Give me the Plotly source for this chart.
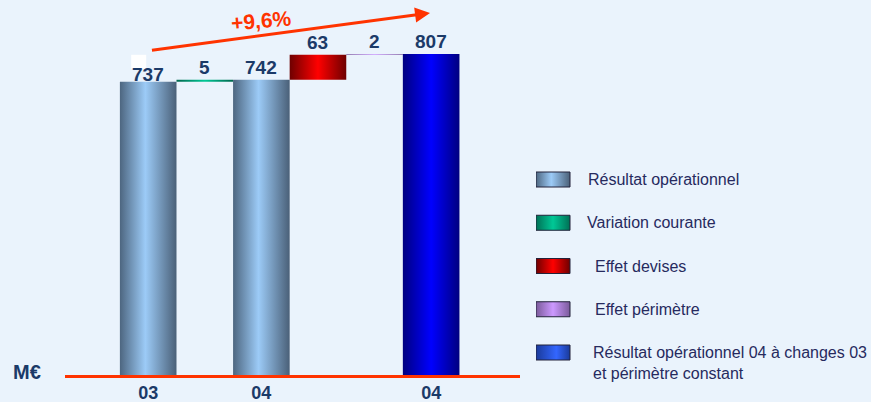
import plotly.graph_objects as go

# ---- data ----
categories = ["03", "Variation courante", "04", "Effet devises", "Effet périmètre", "04 (changes 03)"]
values = [737, 5, 742, 63, 2, 807]
is_total = [True, False, True, False, False, True]
series_of = ["Résultat opérationnel", "Variation courante", "Résultat opérationnel",
             "Effet devises", "Effet périmètre", "Résultat opérationnel 04 à changes 03"]
tick_positions = [0, 2, 5]
tick_labels = ["03", "04", "04"]
growth_label = "+9,6%"
legend_names = ["Résultat opérationnel", "Variation courante", "Effet devises",
                "Effet périmètre", "Résultat opérationnel 04 à changes 03"]
legend_texts = ["Résultat opérationnel", "Variation courante", "Effet devises",
                "Effet périmètre",
                "Résultat opérationnel 04 à changes 03<br>et périmètre constant"]

# ---- styles ----
gradients = {
    "Résultat opérationnel": [[0, "#4d6680"], [0.45, "#9ccbf7"], [1, "#4a6078"]],
    "Variation courante": [[0, "#00664d"], [0.5, "#00c896"], [1, "#00664d"]],
    "Effet devises": [[0, "#6e0000"], [0.5, "#ff0000"], [1, "#6e0000"]],
    "Effet périmètre": [[0, "#7a5a9a"], [0.5, "#cc99ff"], [1, "#7a5a9a"]],
    "Résultat opérationnel 04 à changes 03": [[0, "#000080"], [0.5, "#0000ff"], [1, "#000080"]],
}
legend_gradients = dict(gradients)
legend_gradients["Variation courante"] = [[0, "#007055"], [0.5, "#00c896"], [1, "#007055"]]
legend_gradients["Résultat opérationnel 04 à changes 03"] = [[0, "#1a3a9a"], [0.6, "#3366ff"], [1, "#1a3a9a"]]
legend_text_offset = [50, 49, 57, 57, 55]   # px gap from swatch left to text
label_yshift = [-5, 0, 0, 0, 0, 0]          # px nudges of value labels
BG = "#eaf3fc"
NAVY = "#1b3a68"
RED = "#ff3300"
FONT = "Liberation Sans, Arial, sans-serif"
W, H = 871, 402
PLOT_L, PLOT_R, PLOT_B = 65, 520, 375
LEG_L = 536
ROW0, ROWSTEP = 179.5, 43.25

# compute bases (waterfall)
bases = []
running = 0
for v, t in zip(values, is_total):
    if t:
        bases.append(0)
        running = v
    else:
        bases.append(running)
        running += v

fig = go.Figure()
for i, (v, b, s) in enumerate(zip(values, bases, series_of)):
    xs = [i - 0.5, i + 0.5, i + 0.5, i - 0.5, i - 0.5]
    ys = [b, b, b + v, b + v, b]
    fig.add_trace(go.Scatter(
        x=xs, y=ys, mode="lines", fill="toself",
        line=dict(width=0, color="rgba(0,0,0,0)"),
        fillgradient=dict(type="horizontal", colorscale=gradients[s]),
        name=s, showlegend=False, hoverinfo="skip",
    ))

# value labels
for i, (v, b) in enumerate(zip(values, bases)):
    fig.add_annotation(x=i, y=b + v, xref="x", yref="y", text=str(v),
                       showarrow=False, xanchor="center", yanchor="bottom",
                       yshift=label_yshift[i],
                       font=dict(family=FONT, size=19, color=NAVY, weight="bold"))

# ---- manual legend (own axes, one row per series) ----
SW_W, SW_H = 34, 15
for k, name in enumerate(legend_names):
    h = SW_H / 2 / ROWSTEP
    fig.add_trace(go.Scatter(
        x=[0, SW_W, SW_W, 0, 0], y=[k - h, k - h, k + h, k + h, k - h],
        mode="lines", fill="toself", xaxis="x2", yaxis="y2",
        line=dict(width=1, color="#22223a"),
        fillgradient=dict(type="horizontal", colorscale=legend_gradients[name]),
        showlegend=False, hoverinfo="skip",
    ))
    nlines = legend_texts[k].count("<br>") + 1
    fig.add_annotation(x=legend_text_offset[k], y=k + (nlines - 1) * 21 / 2 / ROWSTEP,
                       xref="x2", yref="y2", text=legend_texts[k], showarrow=False,
                       xanchor="left", yanchor="middle", align="left",
                       font=dict(family=FONT, size=16, color="#262a5e"))

fig.update_layout(
    width=W, height=H,
    margin=dict(l=0, r=0, t=0, b=H - PLOT_B, autoexpand=False),
    paper_bgcolor=BG, plot_bgcolor=BG,
    font=dict(family=FONT),
    xaxis=dict(domain=[PLOT_L / W, PLOT_R / W], range=[-1.47, 6.57], automargin=False,
               tickvals=tick_positions, ticktext=tick_labels,
               showgrid=False, zeroline=False, showline=True, linecolor=RED,
               linewidth=3, ticks="", ticklabelstandoff=-1,
               tickfont=dict(family=FONT, size=18, color=NAVY, weight="bold")),
    yaxis=dict(range=[0, PLOT_B / 0.3978], visible=False, showgrid=False,
               zeroline=False, automargin=False),
    xaxis2=dict(domain=[LEG_L / W, 1], range=[0, W - LEG_L], visible=False,
                showgrid=False, zeroline=False, anchor="y2", automargin=False),
    yaxis2=dict(domain=[0, 1], range=[(PLOT_B - ROW0) / ROWSTEP, -ROW0 / ROWSTEP],
                visible=False, showgrid=False, zeroline=False, anchor="x2",
                automargin=False),
    showlegend=False,
)

# growth arrow
fig.add_annotation(x=4.98, y=910, ax=0.04, ay=816, xref="x", yref="y",
                   axref="x", ayref="y", text="", showarrow=True,
                   arrowhead=2, arrowsize=1, arrowwidth=3, arrowcolor=RED)
fig.add_annotation(x=2.0, y=890, xref="x", yref="y", text=growth_label,
                   showarrow=False, textangle=-5,
                   font=dict(family=FONT, size=21, color=RED, weight="bold"))
# unit label
fig.add_annotation(x=27 / W, y=8, xref="paper", yref="y", text="M€",
                   showarrow=False, xanchor="center", yanchor="middle",
                   font=dict(family=FONT, size=20, color=NAVY, weight="bold"))
# small white patch above first bar
fig.add_shape(type="rect", x0=-0.30, x1=-0.035, y0=770, y1=805, xref="x", yref="y",
              fillcolor="white", line=dict(width=0), layer="below")

fig.write_html("out.html", config={"displayModeBar": False},
               post_script="document.body.style.margin='0px';")
